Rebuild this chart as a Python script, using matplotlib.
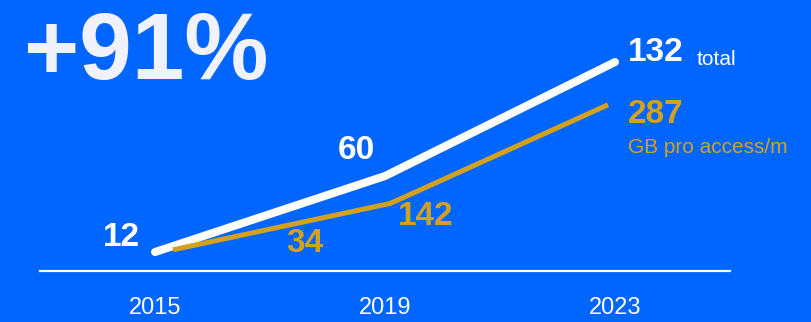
import numpy as np
import matplotlib
matplotlib.use('Agg')
from matplotlib import pyplot as plt

plt.rcParams['font.family'] = ['Liberation Sans', 'DejaVu Sans']

years = [2015, 2019, 2023]
total = [12, 60, 132]
gb_per_access = [34, 142, 287]
headline = '+91%'

BLUE = '#0066ff'
GOLD = '#d4a11e'
WHITE = '#ffffff'


def pw(v):
    return np.sign(v) * np.abs(v) ** 1.5


def pw_inv(v):
    return np.sign(v) * np.abs(v) ** (2.0 / 3.0)


fig = plt.figure(figsize=(8.11, 3.22), dpi=100)
fig.patch.set_facecolor(BLUE)

# main axes: total line, baseline and year labels
ax = fig.add_axes([0, 0, 1, 1])
ax.set_facecolor('none')
ax.set_xlim(2012.304, 2026.409)
ax.set_ylim(-32.2, 171.2)
ax.axis('off')

ax.plot(years, total, color=WHITE, lw=5.8, solid_capstyle='round',
        solid_joinstyle='round', zorder=3)
ax.axhline(0, xmin=40 / 811, xmax=730 / 811, color=WHITE, lw=1.6)

for y in years:
    ax.annotate(str(y), (y, 0), xytext=(0, -37), textcoords='offset pixels',
                ha='center', va='center', color=WHITE, fontsize=17)

# second axes: gb per access line
ax2 = fig.add_axes([0, 0, 1, 1])
ax2.set_facecolor('none')
ax2.set_yscale('function', functions=(pw, pw_inv))
ax2.set_xlim(-0.795, 2.933)
ax2.set_ylim(-165.2, 407.7)
ax2.axis('off')

xi = np.arange(len(gb_per_access))
ax2.plot(xi, gb_per_access, color=GOLD, lw=3.6, solid_capstyle='butt', zorder=4)

# value labels
bold = dict(fontsize=24, fontweight='bold', textcoords='offset pixels', va='center')
ax.annotate(str(total[0]), (years[0], total[0]), xytext=(-15, 15), ha='right',
            color=WHITE, **bold)
ax.annotate(str(total[1]), (years[1], total[1]), xytext=(-29, 26), ha='center',
            color=WHITE, **bold)
ax.annotate(str(total[2]), (years[2], total[2]), xytext=(13, 10), ha='left',
            color=WHITE, **bold)
ax.annotate('total', (years[2], total[2]), xytext=(82, 3), textcoords='offset pixels',
            ha='left', va='center', color=WHITE, fontsize=15)

ax2.annotate(str(gb_per_access[0]), (xi[0], gb_per_access[0]), xytext=(132, 6),
             ha='center', color=GOLD, **bold)
ax2.annotate(str(gb_per_access[1]), (xi[1], gb_per_access[1]), xytext=(35, -13),
             ha='center', color=GOLD, **bold)
ax2.annotate(str(gb_per_access[2]), (xi[2], gb_per_access[2]), xytext=(20, -10),
             ha='left', color=GOLD, **bold)
ax2.annotate('GB pro access/m', (xi[2], gb_per_access[2]), xytext=(20, -43),
             textcoords='offset pixels', ha='left', va='center', color=GOLD, fontsize=15)

fig.text(24 / 811, 1 - 79 / 322, headline, ha='left', va='baseline',
         color='#f0f2ff', fontsize=68, fontweight='bold')

fig.savefig('out.png', dpi=100, facecolor=BLUE)
